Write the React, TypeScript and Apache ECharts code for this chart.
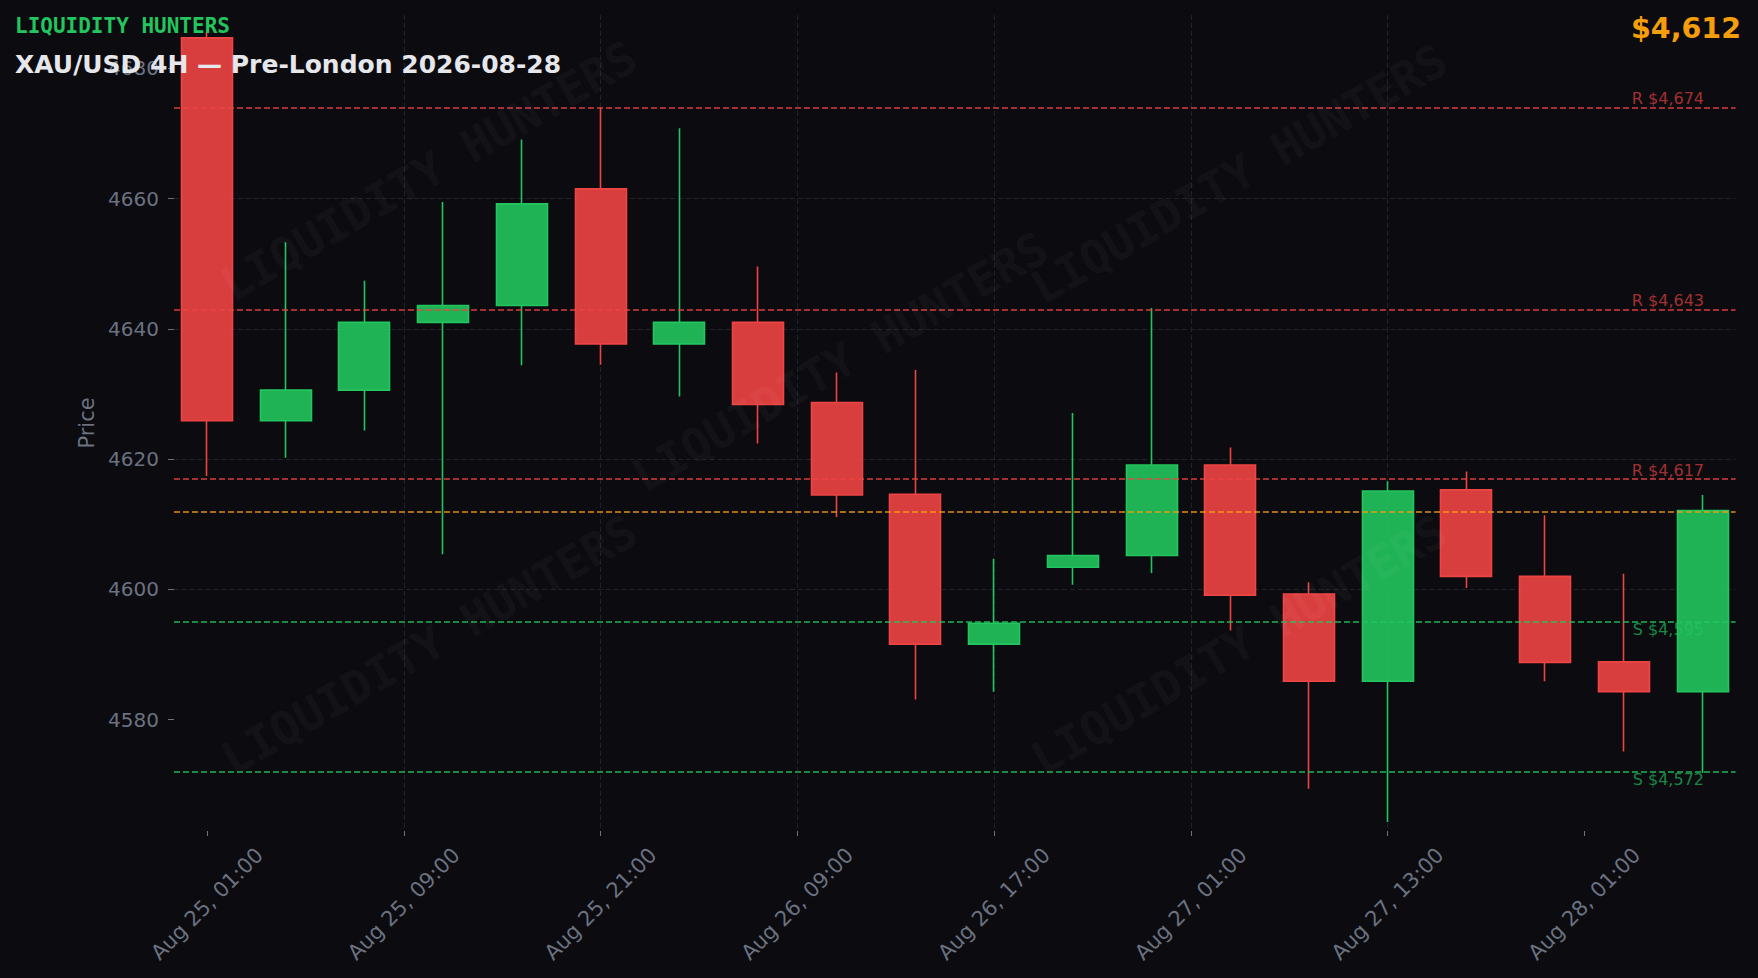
import React, { useEffect, useRef } from 'react';
import * as echarts from 'echarts';

// ---- data ----
const times = [
  'Aug 25, 01:00', 'Aug 25, 05:00', 'Aug 25, 09:00', 'Aug 25, 13:00', 'Aug 25, 17:00',
  'Aug 25, 21:00', 'Aug 26, 01:00', 'Aug 26, 05:00', 'Aug 26, 09:00', 'Aug 26, 13:00',
  'Aug 26, 17:00', 'Aug 26, 21:00', 'Aug 27, 01:00', 'Aug 27, 05:00', 'Aug 27, 09:00',
  'Aug 27, 13:00', 'Aug 27, 17:00', 'Aug 27, 21:00', 'Aug 28, 01:00', 'Aug 28, 05:00',
];
const opens = [4684.7, 4625.9, 4630.6, 4641.0, 4643.6, 4661.5, 4637.7, 4641.0, 4628.7, 4614.6, 4591.6, 4603.4, 4605.2, 4619.1, 4599.3, 4585.9, 4615.3, 4602.0, 4588.9, 4584.3];
const closes = [4625.9, 4630.6, 4641.0, 4643.6, 4659.2, 4637.7, 4641.0, 4628.4, 4614.5, 4591.6, 4594.8, 4605.2, 4619.1, 4599.1, 4585.9, 4615.1, 4602.0, 4588.8, 4584.3, 4612.1];
const lows = [4617.4, 4620.2, 4624.4, 4605.4, 4634.4, 4634.5, 4629.6, 4622.4, 4611.1, 4583.1, 4584.3, 4600.7, 4602.5, 4593.7, 4569.4, 4564.3, 4600.2, 4585.9, 4575.1, 4571.8];
const highs = [4685.5, 4653.3, 4647.4, 4659.5, 4669.1, 4674.0, 4670.8, 4649.6, 4633.3, 4633.7, 4604.7, 4627.1, 4643.2, 4621.8, 4601.1, 4616.6, 4618.1, 4611.4, 4602.4, 4614.5];

const xTickPositions = [0, 2.5, 5, 7.5, 10, 12.5, 15, 17.5];
const xTickLabels = [
  'Aug 25, 01:00', 'Aug 25, 09:00', 'Aug 25, 21:00', 'Aug 26, 09:00',
  'Aug 26, 17:00', 'Aug 27, 01:00', 'Aug 27, 13:00', 'Aug 28, 01:00',
];
const yTicks = [4580, 4600, 4620, 4640, 4660, 4680];
const resistanceLevels = [4674, 4643, 4617];
const supportLevels = [4595, 4572];
const currentPrice = 4611.9;

const brandText = 'LIQUIDITY HUNTERS';
const titleText = 'XAU/USD 4H — Pre-London 2026-08-28';

// ---- styles ----
const BG = '#0b0b10';
const GRID = '#20212a';
const MUTED = '#6b7280';
const RED = '#ef4444';
const GREEN = '#22c55e';
const ORANGE = '#f59e0b';

const fmtPrice = (v: number) => '$' + Math.round(v).toLocaleString('en-US');

export default function App() {
  const ref = useRef<HTMLDivElement>(null);

  useEffect(() => {
    document.body.style.margin = '0';
    const chart = echarts.init(ref.current!, undefined, { renderer: 'svg' });

    const candleData = times.map((_, i) => [i, opens[i], closes[i], lows[i], highs[i]]);

    const lineDist = 31.6;
    const levelData: any[] = [
      ...resistanceLevels.map((v) => ({
        yAxis: v,
        lineStyle: { color: RED, width: 1.5, type: [6, 3], opacity: 0.9 },
        label: {
          show: true,
          position: 'insideEndTop',
          distance: [lineDist, 0.5],
          formatter: 'R ' + fmtPrice(v),
          color: 'rgba(239,68,68,0.75)',
          fontSize: 16,
          fontFamily: 'DejaVu Sans',
        },
      })),
      ...supportLevels.map((v) => ({
        yAxis: v,
        lineStyle: { color: GREEN, width: 1.5, type: [6, 3], opacity: 0.9 },
        label: {
          show: true,
          position: 'insideEndBottom',
          distance: [lineDist, 0],
          formatter: 'S ' + fmtPrice(v),
          color: 'rgba(34,197,94,0.75)',
          fontSize: 16,
          fontFamily: 'DejaVu Sans',
        },
      })),
      {
        yAxis: currentPrice,
        lineStyle: { color: ORANGE, width: 1.5, type: [6, 3], opacity: 0.9 },
        label: { show: false },
      },
    ];

    const watermarks = [
      [429, 171],
      [1239, 174],
      [840, 362],
      [429, 645],
      [1239, 645],
    ].map(([x, y]) => ({
      type: 'text',
      x,
      y,
      rotation: Math.PI / 6,
      silent: true,
      z: 50,
      style: {
        text: brandText,
        fill: 'rgba(255,255,255,0.055)',
        font: 'bold 46px "DejaVu Sans Mono", monospace',
        textAlign: 'center',
        textVerticalAlign: 'middle',
      },
    }));

    const option: any = {
      animation: false,
      backgroundColor: BG,
      grid: { left: 174, right: 22.4, top: 15, bottom: 147, containLabel: false },
      xAxis: {
        type: 'value',
        min: -0.42,
        max: 19.42,
        axisLine: { show: false, onZero: false },
        axisTick: {
          show: true,
          length: 5,
          customValues: xTickPositions,
          lineStyle: { color: MUTED, width: 1 },
        },
        axisLabel: {
          customValues: xTickPositions,
          rotate: 45,
          align: 'center',
          verticalAlign: 'middle',
          margin: 73,
          color: MUTED,
          fontSize: 21,
          fontFamily: 'DejaVu Sans',
          formatter: (v: number) => {
            const i = xTickPositions.indexOf(v);
            return i >= 0 ? xTickLabels[i] : '';
          },
        },
        splitLine: {
          show: true,
          showMinLine: false,
          showMaxLine: false,
          lineStyle: { color: GRID, type: [5, 3], width: 1 },
        },
      },
      yAxis: {
        type: 'value',
        min: 4562.9,
        max: 4688.2,
        name: 'Price',
        nameLocation: 'middle',
        nameGap: 72,
        nameRotate: 90,
        nameTextStyle: { color: MUTED, fontSize: 21, fontFamily: 'DejaVu Sans' },
        axisLine: { show: false, onZero: false },
        axisTick: {
          show: true,
          length: 6,
          customValues: yTicks,
          lineStyle: { color: MUTED, width: 1 },
        },
        axisLabel: {
          customValues: yTicks,
          margin: 15,
          color: MUTED,
          fontSize: 20,
          fontFamily: 'DejaVu Sans',
          formatter: (v: number) => String(v),
        },
        splitLine: {
          show: true,
          showMinLine: false,
          showMaxLine: false,
          lineStyle: { color: GRID, type: [5, 3], width: 1 },
        },
      },
      series: [
        {
          type: 'candlestick',
          data: candleData,
          barWidth: '66%',
          itemStyle: {
            color: 'rgba(34,197,94,0.9)',
            color0: 'rgba(239,68,68,0.9)',
            borderColor: GREEN,
            borderColor0: RED,
            borderWidth: 1.6,
          },
          markLine: {
            symbol: ['none', 'none'],
            silent: true,
            animation: false,
            data: levelData,
          },
        },
      ],
      graphic: [
        ...watermarks,
        {
          type: 'text',
          x: 15,
          y: 25.5,
          z: 100,
          style: {
            text: brandText,
            fill: GREEN,
            font: 'bold 21px "DejaVu Sans Mono", monospace',
            textAlign: 'left',
            textVerticalAlign: 'middle',
          },
        },
        {
          type: 'text',
          x: 15,
          y: 64,
          z: 100,
          style: {
            text: titleText,
            fill: '#e5e7eb',
            font: 'bold 25px "DejaVu Sans", sans-serif',
            textAlign: 'left',
            textVerticalAlign: 'middle',
          },
        },
        {
          type: 'text',
          x: 1741,
          y: 28,
          z: 100,
          style: {
            text: fmtPrice(currentPrice),
            fill: ORANGE,
            font: 'bold 28.5px "DejaVu Sans", sans-serif',
            textAlign: 'right',
            textVerticalAlign: 'middle',
          },
        },
      ],
    };

    chart.setOption(option);
    return () => chart.dispose();
  }, []);

  return (
    <div
      ref={ref}
      style={{ position: 'fixed', left: 0, top: 0, width: 1758, height: 978, background: BG }}
    />
  );
}
